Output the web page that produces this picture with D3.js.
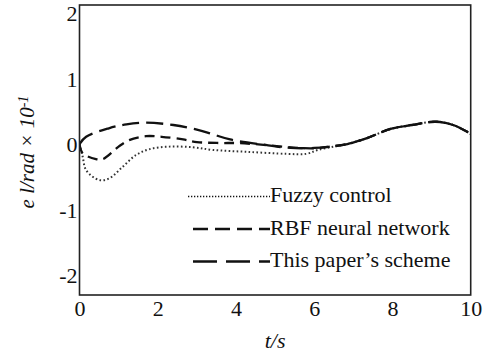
<!DOCTYPE html>
<html>
<head>
<meta charset="utf-8">
<script src="https://cdn.jsdelivr.net/npm/d3@7/dist/d3.min.js"></script>
<style>
  html, body { margin: 0; padding: 0; background: #fff; }
  svg { display: block; }
  svg text { font-family: "Liberation Serif", "Times New Roman", serif !important; fill: #111; }
</style>
</head>
<body>
<svg id="chart" width="490" height="358"></svg>
<script>
// ---- data (values in units of 10^-1 rad) ----
const xTicks = [0, 2, 4, 6, 8, 10];
const yTicks = [-2, -1, 0, 1, 2];
const seriesNames = ["Fuzzy control", "RBF neural network", "This paper\u2019s scheme"];

const fuzzyT = [0, 0.08, 0.17, 0.5, 0.76, 1.1, 1.44, 1.78, 2.3, 2.9, 3.4, 4.3, 5.3, 5.8, 6.1, 6.5, 6.85, 7.35, 7.95, 8.5, 9.1, 9.55, 9.9, 10];
const fuzzyV = [0, -0.19, -0.4, -0.55, -0.525, -0.35, -0.17, -0.08, -0.04, -0.05, -0.09, -0.12, -0.15, -0.15, -0.09, -0.04, 0.0, 0.09, 0.23, 0.29, 0.34, 0.29, 0.19, 0.15];

const rbfT = [0, 0.08, 0.42, 0.6, 1.0, 1.27, 1.7, 2.1, 2.65, 3.0, 3.6, 4.0, 4.45, 5.1, 5.6, 6.0, 6.4, 6.85, 7.35, 7.95, 8.5, 9.1, 9.55, 9.9, 10];
const rbfV = [0, -0.14, -0.23, -0.23, -0.04, 0.06, 0.12, 0.11, 0.07, 0.03, 0.015, 0.015, 0.0, -0.035, -0.06, -0.065, -0.04, 0.0, 0.09, 0.23, 0.29, 0.34, 0.29, 0.19, 0.15];

const schemeT = [0, 0.17, 0.75, 1.2, 1.7, 2.4, 3.0, 3.4, 3.85, 4.7, 5.4, 6.0, 6.4, 6.85, 7.35, 7.95, 8.5, 9.1, 9.55, 9.9, 10];
const schemeV = [0, 0.11, 0.24, 0.3, 0.325, 0.29, 0.22, 0.15, 0.07, -0.01, -0.06, -0.06, -0.04, 0.0, 0.09, 0.23, 0.29, 0.34, 0.29, 0.19, 0.15];

// ---- layout ----
const svg = d3.select("#chart");
const L = 79.5, R = 470.7, T = 5, B = 295;
const FONT = "'Liberation Serif', 'Times New Roman', serif";

const x = d3.scaleLinear().domain([0, 10]).range([L, R]);
const y = d3.scaleLinear().domain([-2.305, 2.122]).range([B, T]);
const fmt = d => String(d); // plain hyphen-minus like the reference

svg.append("defs").append("clipPath").attr("id", "clip")
  .append("rect").attr("x", L).attr("y", T).attr("width", R - L).attr("height", B - T);

// axes (labels only, no tick marks)
const xAxis = d3.axisBottom(x).tickValues(xTicks).tickSize(0).tickPadding(0).tickFormat(fmt);
const gx = svg.append("g").attr("transform", `translate(0,${B})`).call(xAxis)
  .attr("font-family", FONT).attr("font-size", 22);
gx.select(".domain").remove();
gx.selectAll("text").attr("dy", null).attr("y", 21).attr("fill", "#111");

const yAxis = d3.axisLeft(y).tickValues(yTicks).tickSize(0).tickPadding(0).tickFormat(fmt);
const gy = svg.append("g").attr("transform", `translate(${L - 2},0)`).call(yAxis)
  .attr("font-family", FONT).attr("font-size", 22);
gy.select(".domain").remove();
gy.selectAll("text").attr("dy", "0.35em").attr("x", 0).attr("fill", "#111");

// curves
const line = d3.line().x(d => x(d[0])).y(d => y(d[1])).curve(d3.curveCatmullRom.alpha(0.5));
const zip = (a, b) => a.map((t, i) => [t, b[i]]);

const plot = svg.append("g").attr("clip-path", "url(#clip)");
plot.append("path").datum(zip(fuzzyT, fuzzyV)).attr("d", line)
  .attr("fill", "none").attr("stroke", "#333").attr("stroke-width", 2)
  .attr("stroke-dasharray", "1.6,2.4");
plot.append("path").datum(zip(rbfT, rbfV)).attr("d", line)
  .attr("fill", "none").attr("stroke", "#111").attr("stroke-width", 2.3)
  .attr("stroke-dasharray", "10,6");
plot.append("path").datum(zip(schemeT, schemeV)).attr("d", line)
  .attr("fill", "none").attr("stroke", "#111").attr("stroke-width", 2.3)
  .attr("stroke-dasharray", "17,7");

// frame
svg.append("rect").attr("x", L).attr("y", T).attr("width", R - L).attr("height", B - T)
  .attr("fill", "none").attr("stroke", "#222").attr("stroke-width", 1.6);

// legend
const legend = [
  { name: seriesNames[0], y: 196.5, x1: 188, dash: "1.3,1.7", w: 1.6 },
  { name: seriesNames[1], y: 229, x1: 193, dash: "15,7", w: 2.6 },
  { name: seriesNames[2], y: 261.5, x1: 193, dash: "24,9", w: 2.6 }
];
const lg = svg.append("g");
legend.forEach(d => {
  lg.append("line").attr("x1", d.x1).attr("x2", 270).attr("y1", d.y).attr("y2", d.y)
    .attr("stroke", "#111").attr("stroke-width", d.w).attr("stroke-dasharray", d.dash);
  lg.append("text").attr("x", 270).attr("y", d.y + 5.5).attr("font-size", 22).text(d.name);
});

// axis titles
svg.append("text").attr("x", x(5)).attr("y", 347.5).attr("text-anchor", "middle")
  .attr("font-size", 22).attr("font-style", "italic").text("t/s");

const yl = svg.append("text").attr("transform", "translate(34,152) rotate(-90)")
  .attr("text-anchor", "middle").attr("font-size", 21).attr("font-style", "italic");
yl.append("tspan").text("e l/rad \u00D7 10");
yl.append("tspan").attr("dy", "-0.45em").attr("font-size", 14).text("-1");
</script>
</body>
</html>
